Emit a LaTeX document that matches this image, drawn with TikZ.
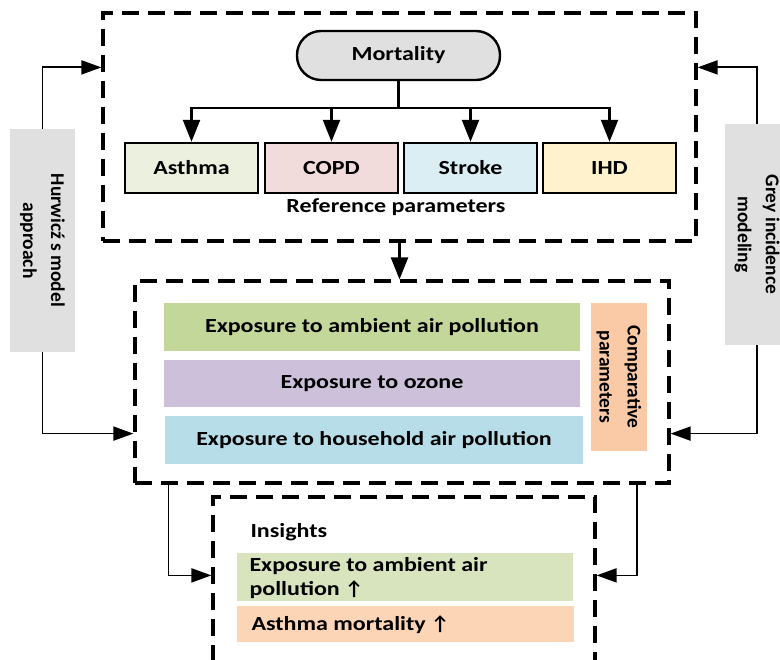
\documentclass[tikz,border=0pt]{standalone}
\usepackage{fontspec}
\setmainfont{Carlito}[FakeStretch=1.2]
\newfontfamily\rotfont{Carlito}
\usetikzlibrary{arrows.meta}
\definecolor{greyfill}{HTML}{E0E0E0}
\definecolor{cAsthma}{HTML}{EBF1DE}
\definecolor{cCOPD}{HTML}{F2DCDB}
\definecolor{cStroke}{HTML}{DBEEF3}
\definecolor{cIHD}{HTML}{FFF2CC}
\definecolor{cAmb}{HTML}{C4D79B}
\definecolor{cOzone}{HTML}{CCC0DA}
\definecolor{cHouse}{HTML}{B7DEE8}
\definecolor{cComp}{HTML}{FAC9A6}
\definecolor{cInsG}{HTML}{D7E4BD}
\definecolor{cInsO}{HTML}{FBD5B5}
\begin{document}
\begin{tikzpicture}[x=1pt,y=-1pt,
  dbox/.style={draw=black, line width=3.2pt, dash pattern=on 17pt off 9pt, inner sep=0pt},
  sbox/.style={draw=black, line width=2.4pt, inner sep=0pt},
  fbox/.style={draw=none, inner sep=0pt},
  lbl/.style={font=\fontsize{20}{24}\selectfont\bfseries},
  rlbl/.style={font=\rotfont\fontsize{19.5}{28}\selectfont\bfseries, align=center, rotate=-90},
  conn/.style={line width=1.8pt},
  arr/.style={conn, -{Triangle[length=20pt,width=14pt]}},
  bigarr/.style={line width=2.4pt, -{Triangle[length=22pt,width=17pt]}},
]
\useasboundingbox (0,0) rectangle (780,660);

% dashed containers
\node[dbox, minimum width=593pt, minimum height=228pt] (topbox) at (399.5,127) {};
\node[dbox, minimum width=534pt, minimum height=202pt] (midbox) at (402,382) {};
\node[dbox, minimum width=382pt, minimum height=180pt] (botbox) at (404,587) {};

% top content
\node[sbox, fill=greyfill, rounded corners=24pt, minimum width=203pt, minimum height=49pt, lbl] (mort) at (398.5,55.5) {Mortality};
\node[sbox, fill=cAsthma, minimum width=133pt, minimum height=50pt, lbl] (asthma) at (191.5,168) {Asthma};
\node[sbox, fill=cCOPD, minimum width=133pt, minimum height=50pt, lbl] (copd) at (331.5,168) {COPD};
\node[sbox, fill=cStroke, minimum width=133pt, minimum height=50pt, lbl] (stroke) at (470.5,168) {Stroke};
\node[sbox, fill=cIHD, minimum width=133pt, minimum height=50pt, lbl] (ihd) at (609.5,168) {IHD};
\node[lbl] (refp) at (396,207) {Reference parameters};

\draw[line width=2.4pt] (mort.south) -- ++(0,27) coordinate (bar);
\draw[bigarr] (bar) -| (asthma.north);
\draw[bigarr] (bar) -| (copd.north);
\draw[bigarr] (bar) -| (stroke.north);
\draw[bigarr] (bar) -| (ihd.north);

% middle content
\node[fbox, fill=cAmb, minimum width=416pt, minimum height=48pt, lbl] (amb) at (372,327) {Exposure to ambient air pollution};
\node[fbox, fill=cOzone, minimum width=416pt, minimum height=47pt, lbl] (ozone) at (372,383.5) {Exposure to ozone};
\node[fbox, fill=cHouse, minimum width=418pt, minimum height=48pt, lbl] (house) at (374,440) {Exposure to household air pollution};
\node[fbox, fill=cComp, minimum width=56pt, minimum height=148pt] (comp) at (619,377) {};
\node[rlbl] (compt) at (comp.center) {Comparative\\parameters};

% bottom content
\node[lbl, anchor=west] (ins) at (247,532) {Insights};
\node[fbox, fill=cInsG, minimum width=336pt, minimum height=48pt] (insg) at (405,577) {};
\node[lbl, anchor=west, align=left] (insgt) at (246,578) {Exposure to ambient air\\pollution \rotfont↑};
\node[fbox, fill=cInsO, minimum width=337pt, minimum height=36pt] (inso) at (405.5,624) {};
\node[lbl, anchor=west] (insot) at (248,625) {Asthma mortality \rotfont↑};

% side boxes
\node[fbox, fill=greyfill, minimum width=65pt, minimum height=223pt] (hur) at (42.5,240.5) {};
\node[rlbl] (hurt) at (hur.center) {Hurwicź s model\\approach};
\node[fbox, fill=greyfill, minimum width=70pt, minimum height=221pt] (grey) at (760,234.5) {};
\node[rlbl] (greyt) at (757,234.5) {Grey incidence\\modeling};

% connectors
\draw[bigarr] (topbox.south) -- (topbox.south |- midbox.north);
\path (topbox.north west) ++(0,56) coordinate (tlin);
\path (topbox.north east) ++(0,56) coordinate (trin);
\path (midbox.south west) ++(0,-51) coordinate (mlin);
\path (midbox.south east) ++(0,-51) coordinate (mrin);
\draw[arr] (hur.north) |- (tlin);
\draw[arr] (hur.south) |- (mlin);
\draw[arr] (grey.north -| greyt.center) |- (trin);
\draw[arr] (grey.south -| greyt.center) |- (mrin);
\path (midbox.south west) ++(35,0) coordinate (mbl);
\path (midbox.south east) ++(-34,0) coordinate (mbr);
\path (botbox.north west) ++(0,80) coordinate (blin);
\path (botbox.north east) ++(0,80) coordinate (brin);
\draw[arr] (mbl) |- (blin);
\draw[arr] (mbr) |- (brin);
\end{tikzpicture}
\end{document}
